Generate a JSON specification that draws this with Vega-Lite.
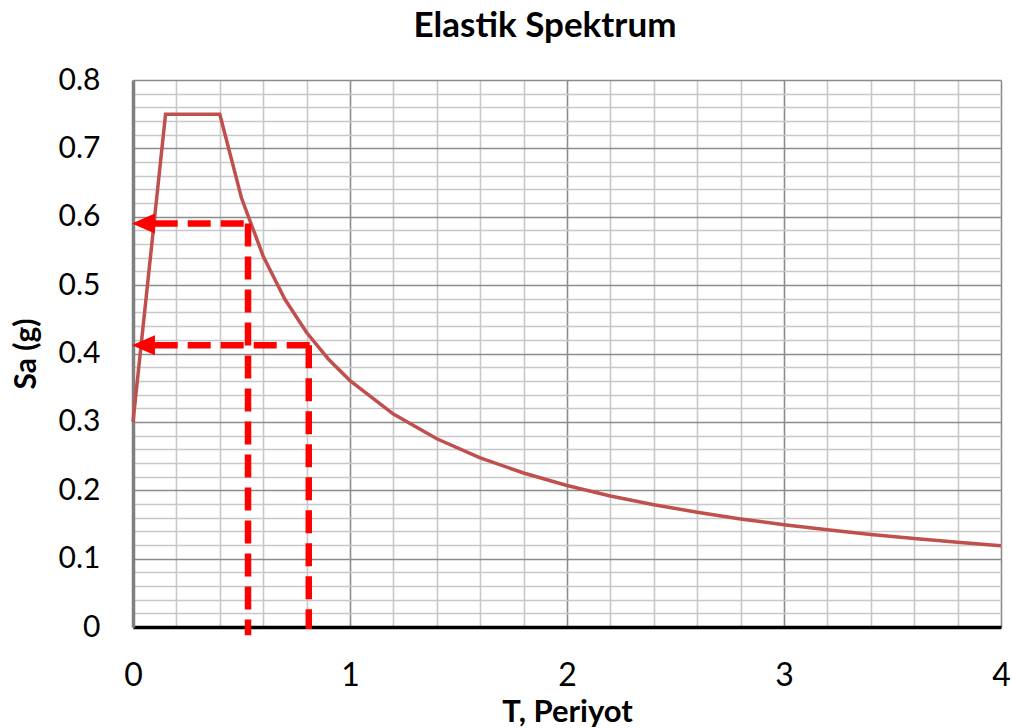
{
  "$schema": "https://vega.github.io/schema/vega-lite/v6.json",
  "width": 868,
  "height": 547,
  "autosize": {"type": "none"},
  "padding": {"left": 133, "top": 80, "right": 11, "bottom": 101},
  "background": "white",
  "config": {"view": {"stroke": null}, "font": "Lato"},
  "title": {
    "text": "Elastik Spektrum",
    "font": "Lato",
    "fontSize": 35,
    "fontWeight": "bold",
    "color": "#000000",
    "anchor": "middle",
    "frame": "group",
    "baseline": "alphabetic",
    "offset": 0,
    "dy": 7,
    "dx": -22
  },
  "datasets": {
    "spectrum": [
      {"T": 0, "Sa": 0.3},
      {"T": 0.15, "Sa": 0.75},
      {"T": 0.4, "Sa": 0.75},
      {"T": 0.5, "Sa": 0.6274},
      {"T": 0.6, "Sa": 0.5423},
      {"T": 0.7, "Sa": 0.4793},
      {"T": 0.8, "Sa": 0.4307},
      {"T": 0.9, "Sa": 0.392},
      {"T": 1.0, "Sa": 0.3604},
      {"T": 1.2, "Sa": 0.3114},
      {"T": 1.4, "Sa": 0.2753},
      {"T": 1.6, "Sa": 0.2474},
      {"T": 1.8, "Sa": 0.2252},
      {"T": 2.0, "Sa": 0.2069},
      {"T": 2.2, "Sa": 0.1917},
      {"T": 2.4, "Sa": 0.1789},
      {"T": 2.6, "Sa": 0.1678},
      {"T": 2.8, "Sa": 0.1581},
      {"T": 3.0, "Sa": 0.1496},
      {"T": 3.2, "Sa": 0.1421},
      {"T": 3.4, "Sa": 0.1354},
      {"T": 3.6, "Sa": 0.1293},
      {"T": 3.8, "Sa": 0.1239},
      {"T": 4.0, "Sa": 0.1189}
    ],
    "guides": [
      {"x": 0.1, "x2": 0.535, "y": 0.59, "y2": 0.59},
      {"x": 0.53, "x2": 0.53, "y": 0.59, "y2": -0.012},
      {"x": 0.1, "x2": 0.815, "y": 0.412, "y2": 0.412},
      {"x": 0.81, "x2": 0.81, "y": 0.412, "y2": -0.003}
    ],
    "arrows": [
      {"x": -0.005, "y": 0.59},
      {"x": -0.005, "y": 0.412}
    ]
  },
  "layer": [
    {
      "data": {"name": "spectrum"},
      "mark": {"type": "line", "color": "#c0504d", "strokeWidth": 3.5, "clip": false},
      "encoding": {
        "x": {
          "field": "T",
          "type": "quantitative",
          "scale": {"domain": [0, 4], "nice": false, "zero": false},
          "axis": {
            "values": [0, 0.2, 0.4, 0.6, 0.8, 1, 1.2, 1.4, 1.6, 1.8, 2, 2.2, 2.4, 2.6, 2.8, 3, 3.2, 3.4, 3.6, 3.8, 4],
            "tickCount": 200,
            "labelExpr": "datum.value % 1 == 0 ? format(datum.value, 'd') : ''",
            "labelOverlap": false,
            "labelFlush": false,
            "labelBound": false,
            "labelFont": "Lato",
            "labelFontSize": 32,
            "labelColor": "#000000",
            "labelPadding": 33,
            "ticks": false,
            "tickSize": 0,
            "grid": true,
            "gridColor": {"condition": {"test": "datum.value % 1 == 0", "value": "#8c8c8c"}, "value": "#c8c8c8"},
            "gridWidth": 1.6,
            "domainColor": "#000000",
            "domainWidth": 3.5,
            "title": "T, Periyot",
            "titleFont": "Lato",
            "titleFontSize": 31,
            "titleFontWeight": "bold",
            "titleColor": "#000000",
            "titleX": 434,
            "titleY": 70,
            "titleBaseline": "top"
          }
        },
        "y": {
          "field": "Sa",
          "type": "quantitative",
          "scale": {"domain": [0, 0.8], "nice": false, "zero": false},
          "axis": {
            "values": [0, 0.02, 0.04, 0.06, 0.08, 0.1, 0.12, 0.14, 0.16, 0.18, 0.2, 0.22, 0.24, 0.26, 0.28, 0.3, 0.32, 0.34, 0.36, 0.38, 0.4, 0.42, 0.44, 0.46, 0.48, 0.5, 0.52, 0.54, 0.56, 0.58, 0.6, 0.62, 0.64, 0.66, 0.68, 0.7, 0.72, 0.74, 0.76, 0.78, 0.8],
            "tickCount": 200,
            "labelExpr": "abs(datum.value * 10 - round(datum.value * 10)) < 0.001 ? format(datum.value, '.1~f') : ''",
            "labelOverlap": false,
            "labelFlush": false,
            "labelBound": false,
            "labelFont": "Lato",
            "labelFontSize": 30,
            "labelColor": "#000000",
            "labelPadding": 33,
            "ticks": false,
            "tickSize": 0,
            "grid": true,
            "gridColor": {"condition": {"test": "abs(datum.value * 10 - round(datum.value * 10)) < 0.001", "value": "#8c8c8c"}, "value": "#c8c8c8"},
            "gridWidth": 1.6,
            "domainColor": "#7f7f7f",
            "domainWidth": 3.5,
            "title": "Sa (g)",
            "titleFont": "Lato",
            "titleFontSize": 30,
            "titleFontWeight": "bold",
            "titleColor": "#000000",
            "titleX": -92,
            "titleY": 273.5
          }
        }
      }
    },
    {
      "data": {"name": "guides"},
      "mark": {"type": "rule", "color": "#ff0000", "strokeWidth": 6.5, "strokeDash": [23, 10], "clip": false},
      "encoding": {
        "x": {"field": "x", "type": "quantitative"},
        "x2": {"field": "x2"},
        "y": {"field": "y", "type": "quantitative"},
        "y2": {"field": "y2"}
      }
    },
    {
      "data": {"name": "arrows"},
      "mark": {"type": "point", "shape": "M0,0L2,-0.87L2,0.87Z", "size": 529, "filled": true, "color": "#ff0000", "opacity": 1, "strokeWidth": 0, "clip": false},
      "encoding": {
        "x": {"field": "x", "type": "quantitative"},
        "y": {"field": "y", "type": "quantitative"}
      }
    }
  ]
}
